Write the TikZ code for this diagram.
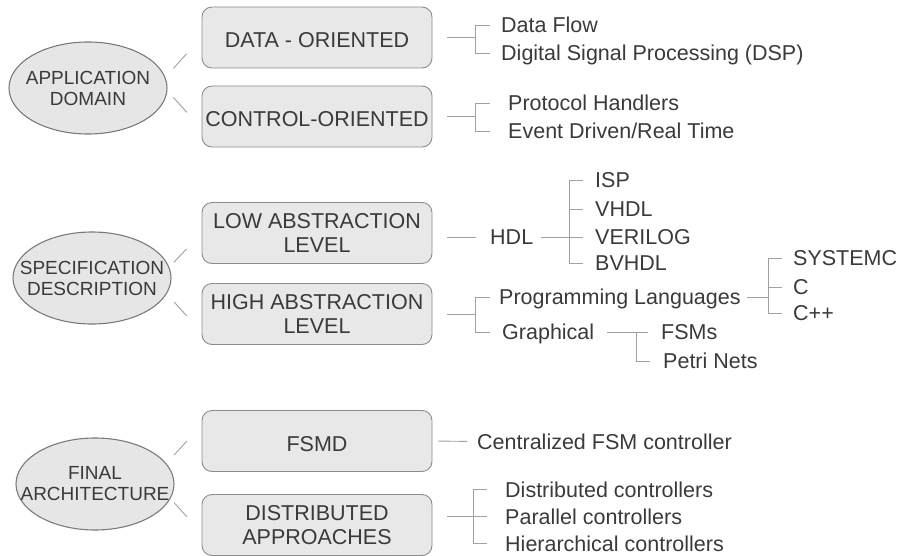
\documentclass[tikz,border=0pt]{standalone}
\usepackage{fontspec}
\setmainfont{Liberation Sans}
\usetikzlibrary{shapes.geometric, positioning}
\definecolor{ink}{HTML}{3A3A3A}
\definecolor{boxfill}{HTML}{E8E8E8}
\definecolor{boxline}{HTML}{8C8C8C}
\definecolor{ellfill}{HTML}{E6E6E6}
\definecolor{ellline}{HTML}{7A7A7A}
\definecolor{linegray}{HTML}{A0A0A0}
\tikzstyle{topic} = [ellipse, minimum width=158pt, minimum height=92pt, inner xsep=-20pt, inner ysep=0pt, align=center, draw=ellline, fill=ellfill, line width=1.1pt, text=ink, font=\fontsize{19}{21}\selectfont]
\tikzstyle{choice} = [rectangle, rounded corners=10pt, minimum width=230pt, minimum height=61pt, align=center, draw=boxline, fill=boxfill, line width=0.9pt, text=ink, font=\fontsize{21.5}{24}\selectfont, execute at begin node={\rule{0pt}{21pt}}]
\tikzstyle{leaf} = [anchor=west, inner sep=0pt, text height=15pt, text depth=0pt, text=ink, font=\fontsize{21.5}{24}\selectfont]
\tikzstyle{link} = [draw=linegray, line width=0.9pt]
\tikzstyle{spoke} = [link, shorten >=22pt]

\begin{document}
\begin{tikzpicture}[x=1pt, y=-1pt]
\useasboundingbox (0,0) rectangle (899,556);

% application domain
\node (appdom) [topic] at (88,88) {APPLICATION\\DOMAIN};
\node (dataor) [choice] at (317,37.5) {DATA - ORIENTED};
\node (ctrlor) [choice] at (317,116.5) {CONTROL-ORIENTED};

\node (dflow) [leaf] at (501,25) {Data Flow};
\node (dsp) [leaf, below=28pt of dflow.west, anchor=west] {Digital Signal Processing (DSP)};
\node (proto) [leaf] at (508,103) {Protocol Handlers};
\node (event) [leaf, below=28pt of proto.west, anchor=west] {Event Driven/Real Time};

\coordinate (dobar) at (475,37.5);
\coordinate (cobar) at (475,116.5);

\draw [spoke, shorten <=12pt] (appdom.8) -- (dataor.west);
\draw [spoke, shorten <=9pt] (appdom.-2) -- (ctrlor.186);
\draw [link, shorten <=15pt] (dataor.east) -- (dobar);
\draw [link, shorten >=11pt] (dobar) |- (dflow.west);
\draw [link, shorten >=11pt] (dobar) |- (dsp.west);
\draw [link, shorten <=15pt] (ctrlor.east) -- (cobar);
\draw [link, shorten >=18pt] (cobar) |- (proto.west);
\draw [link, shorten >=18pt] (cobar) |- (event.west);

% specification description
\node (specdes) [topic] at (92,278) {SPECIFICATION\\DESCRIPTION};
\node (lowab) [choice] at (317,233) {LOW ABSTRACTION\\LEVEL};
\node (highab) [choice] at (317,314) {HIGH ABSTRACTION\\LEVEL};

\node (hdl) [leaf] at (490,237) {HDL};
\node (isp) [leaf] at (595,180) {ISP};
\node (vhdl) [leaf, below=29pt of isp.west, anchor=west] {VHDL};
\node (verilog) [leaf, below=28pt of vhdl.west, anchor=west] {VERILOG};
\node (bvhdl) [leaf, below=26pt of verilog.west, anchor=west] {BVHDL};

\node (plang) [leaf] at (499,297) {Programming Languages};
\node (graph) [leaf] at (502,332) {Graphical};
\node (sysc) [leaf] at (793,258) {SYSTEMC};
\node (cc) [leaf, below=29pt of sysc.west, anchor=west] {C};
\node (cpp) [leaf, below=26pt of cc.west, anchor=west] {C++};
\node (fsms) [leaf] at (661,332) {FSMs};
\node (petri) [leaf] at (663,361) {Petri Nets};

\coordinate (hdlbar) at (569,237);
\coordinate (highbar) at (475,314);
\coordinate (plbar) at (768,297);
\coordinate (grbar) at (636,332);

\draw [spoke, shorten <=6.5pt] (specdes.8) -- (lowab.west);
\draw [spoke, shorten <=11pt] (specdes.-12) -- (highab.189);
\draw [link, shorten <=15pt, shorten >=14pt] (lowab.east |- hdl.west) -- (hdl.west);
\draw [link, shorten <=8pt] (hdl.east) -- (hdlbar);
\foreach \lang in {isp, vhdl, verilog, bvhdl}
  \draw [link, shorten >=12pt] (hdlbar) |- (\lang.west);
\draw [link, shorten <=15pt] (highab.east) -- (highbar);
\draw [link, shorten >=9pt] (highbar) |- (plang.west);
\draw [link, shorten >=12pt] (highbar) |- (graph.west);
\draw [link, shorten <=6pt] (plang.east) -- (plbar);
\foreach \lang in {sysc, cc, cpp}
  \draw [link, shorten >=11pt] (plbar) |- (\lang.west);
\draw [link, shorten <=13pt] (graph.east) -- (grbar);
\draw [link, shorten >=13pt] (grbar) -- (fsms.west);
\draw [link, shorten >=13pt] (grbar) |- (petri.west);

% final architecture
\node (finarch) [topic] at (95,484) {FINAL\\ARCHITECTURE};
\node (fsmd) [choice] at (317,441) {FSMD};
\node (distap) [choice] at (317,525) {DISTRIBUTED\\APPROACHES};

\node (central) [leaf] at (477,441.5) {Centralized FSM controller};
\node (distc) [leaf] at (505,489.5) {Distributed controllers};
\node (parc) [leaf, below=27pt of distc.west, anchor=west] {Parallel controllers};
\node (hierc) [leaf, below=27pt of parc.west, anchor=west] {Hierarchical controllers};

\coordinate (dbar) at (473,516);

\draw [spoke, shorten <=11.5pt] (finarch.16) -- (fsmd.172);
\draw [spoke, shorten <=5.5pt] (finarch.-11) -- (distap.184);
\draw [link, shorten <=6pt, shorten >=10pt] (fsmd.east) -- (central.west);
\draw [link, shorten <=15pt] (distap.east |- dbar) -- (dbar);
\foreach \ctrl in {distc, parc, hierc}
  \draw [link, shorten >=18pt] (dbar) |- (\ctrl.west);
\end{tikzpicture}
\end{document}
